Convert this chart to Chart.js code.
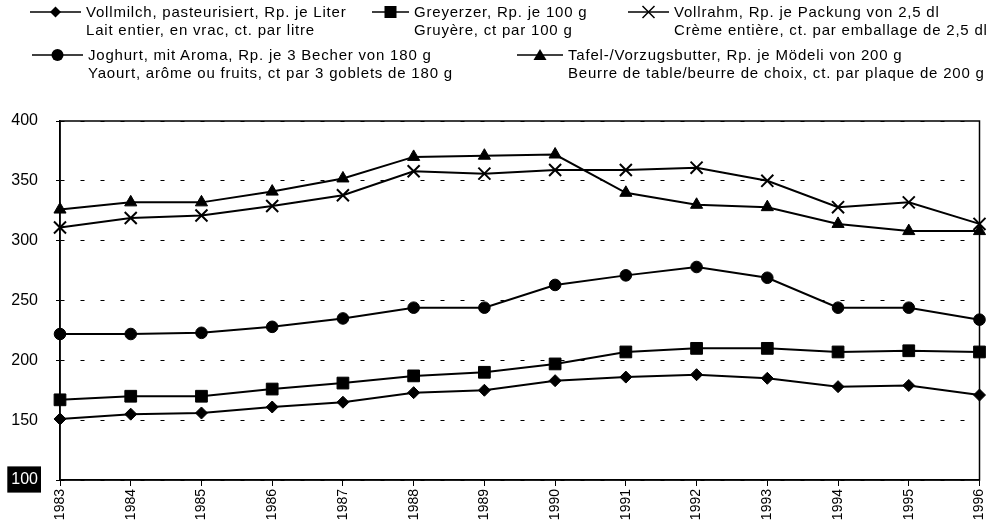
<!DOCTYPE html>
<html>
<head>
<meta charset="utf-8">
<script src="https://cdn.jsdelivr.net/npm/chart.js@4.4.1/dist/chart.umd.min.js"></script>
<style>
  html, body { margin: 0; padding: 0; background: #fff; }
  #wrap { position: relative; width: 990px; height: 524px; font-family: "Liberation Sans", Arial, sans-serif; color: #000; }
  #chart { position: absolute; left: 0; top: 0; }
  .item { position: absolute; font-size: 15px; line-height: 18px; letter-spacing: 0.8px; white-space: nowrap; }
  .item svg { position: absolute; top: 0; }
  .item .txt { position: absolute; top: 0; }
</style>
</head>
<body>
<div id="wrap">
  <canvas id="chart" width="990" height="524"></canvas>
  <div id="legend"></div>
</div>
<script>
const years = ['1983', '1984', '1985', '1986', '1987', '1988', '1989', '1990', '1991', '1992', '1993', '1994', '1995', '1996'];

const milk = [151, 155, 156, 161, 165, 173, 175, 183, 186, 188, 185, 178, 179, 171];
const gruyere = [167, 170, 170, 176, 181, 187, 190, 197, 207, 210, 210, 207, 208, 207];
const cream = [311, 319, 321, 329, 338, 358, 356, 359, 359, 361, 350, 328, 332, 314];
const yogurt = [222, 222, 223, 228, 235, 244, 244, 263, 271, 278, 269, 244, 244, 234];
const butter = [326, 332, 332, 341, 352, 370, 371, 372, 340, 330, 328, 314, 308, 308];

const yTicks = [100, 150, 200, 250, 300, 350, 400];

const seriesNames = [
  ['Vollmilch, pasteurisiert, Rp. je Liter', 'Lait entier, en vrac, ct. par litre'],
  ['Greyerzer, Rp. je 100 g', 'Gruyère, ct par 100 g'],
  ['Vollrahm, Rp. je Packung von 2,5 dl', 'Crème entière, ct. par emballage de 2,5 dl'],
  ['Joghurt, mit Aroma, Rp. je 3 Becher von 180 g', 'Yaourt, arôme ou fruits, ct par 3 goblets de 180 g'],
  ['Tafel-/Vorzugsbutter, Rp. je Mödeli von 200 g', 'Beurre de table/beurre de choix, ct. par plaque de 200 g'],
];

// legend blocks: left edge of line sample, top of text block, sample length
const legendPos = [
  { x: 30, y: 3, line: 51 },
  { x: 372, y: 3, line: 37 },
  { x: 628, y: 3, line: 41 },
  { x: 32, y: 46, line: 51 },
  { x: 517, y: 46, line: 46 },
];

function markerSvg(kind, w) {
  const c = w / 2;
  let shape = '';
  if (kind === 'diamond') shape = `<polygon points="${c},3.5 ${c + 5.5},9 ${c},14.5 ${c - 5.5},9" fill="#000"/>`;
  if (kind === 'square') shape = `<rect x="${c - 6}" y="3" width="12" height="12" fill="#000"/>`;
  if (kind === 'cross') shape = `<path d="M${c - 6},3 L${c + 6},15 M${c + 6},3 L${c - 6},15" stroke="#000" stroke-width="1.5"/>`;
  if (kind === 'circle') shape = `<circle cx="${c}" cy="9" r="6" fill="#000"/>`;
  if (kind === 'triangle') shape = `<polygon points="${c},3 ${c + 6.5},14 ${c - 6.5},14" fill="#000"/>`;
  return `<svg width="${w}" height="18"><line x1="0" y1="9" x2="${w}" y2="9" stroke="#000" stroke-width="1.5"/>${shape}</svg>`;
}

const markerKinds = ['diamond', 'square', 'cross', 'circle', 'triangle'];

const legend = document.getElementById('legend');
seriesNames.forEach((names, i) => {
  const pos = legendPos[i];
  const el = document.createElement('div');
  el.className = 'item';
  el.style.left = pos.x + 'px';
  el.style.top = pos.y + 'px';
  el.innerHTML = markerSvg(markerKinds[i], pos.line)
    + `<div class="txt" style="left:${pos.line + 5}px">${names[0]}<br>${names[1]}</div>`;
  legend.appendChild(el);
});

const frame = {
  id: 'frame',
  afterDatasetsDraw(chart) {
    const { ctx, chartArea: a } = chart;
    ctx.save();
    ctx.strokeStyle = '#000';
    ctx.lineWidth = 1.5;
    ctx.strokeRect(a.left, a.top, a.right - a.left, a.bottom - a.top);
    ctx.restore();
  },
};

const line = (data, style, radius, extra) => Object.assign({
  data,
  borderColor: '#000',
  backgroundColor: '#000',
  borderWidth: 2,
  pointStyle: style,
  pointRadius: radius,
  pointBorderColor: '#000',
  pointBackgroundColor: '#000',
  pointBorderWidth: 1,
  tension: 0,
  clip: false,
}, extra || {});

new Chart(document.getElementById('chart'), {
  type: 'line',
  data: {
    labels: years,
    datasets: [
      line(milk, 'rectRot', 6),
      line(gruyere, 'rect', 8.3),
      line(cream, 'crossRot', 8.5, { pointBorderWidth: 2 }),
      line(yogurt, 'circle', 5.8),
      line(butter, 'triangle', 7),
    ],
  },
  options: {
    responsive: false,
    animation: false,
    events: [],
    layout: { padding: { top: 121, right: 8, left: 0, bottom: 0 } },
    plugins: {
      legend: { display: false },
      tooltip: { enabled: false },
    },
    scales: {
      x: {
        offset: false,
        afterFit: (scale) => {
          scale.height = 44;
          scale.paddingLeft = 0;
          scale.paddingRight = 0;
        },
        grid: { drawOnChartArea: false, drawTicks: true, tickLength: 6, color: '#000', lineWidth: 1 },
        border: { display: true, color: '#000', width: 1.5 },
        ticks: {
          minRotation: 90,
          maxRotation: 90,
          padding: 3,
          color: '#000',
          font: { family: '"Liberation Sans", Arial, sans-serif', size: 14 },
        },
      },
      y: {
        min: 100,
        max: 400,
        afterFit: (scale) => { scale.width = 60; },
        afterBuildTicks: (scale) => { scale.ticks = yTicks.map((v) => ({ value: v })); },
        grid: {
          color: '#000',
          lineWidth: 1,
          drawTicks: true,
          tickLength: 4,
        },
        border: { display: true, color: '#000', width: 1.5, dash: [4, 16] },
        ticks: {
          padding: 18,
          color: (ctx) => (ctx.tick.value === 100 ? '#fff' : '#000'),
          showLabelBackdrop: true,
          backdropColor: (ctx) => (ctx.tick.value === 100 ? '#000' : 'rgba(0,0,0,0)'),
          backdropPadding: { top: 4, bottom: 3, left: 4, right: 3 },
          font: { family: '"Liberation Sans", Arial, sans-serif', size: 16 },
        },
      },
    },
  },
  plugins: [frame],
});
</script>
</body>
</html>
